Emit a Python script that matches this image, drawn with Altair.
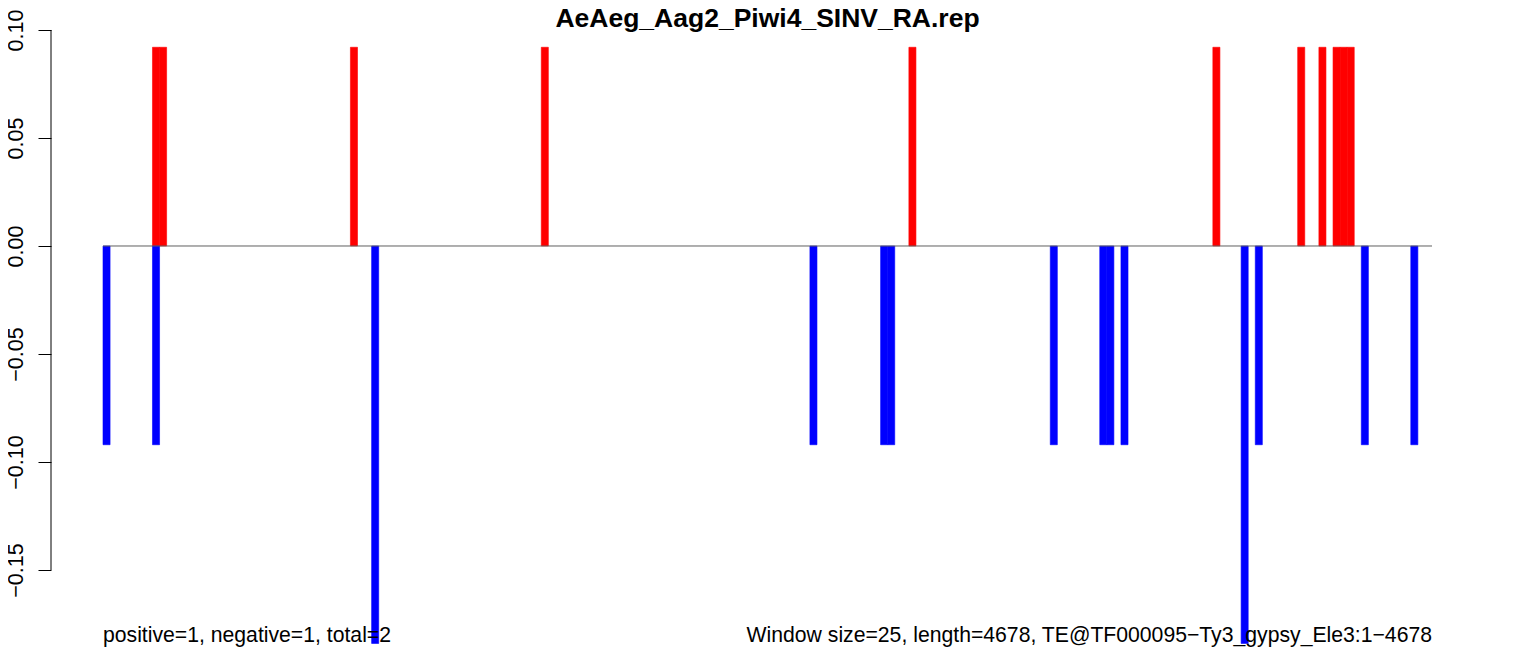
import altair as alt
import pandas as pd

# Window indices (window size 25, 188 windows over length 4678)
n_windows = 188
pos_windows = [7, 8, 35, 62, 114, 157, 169, 172, 174, 175, 176]
pos_values = [0.092, 0.092, 0.092, 0.092, 0.092, 0.092, 0.092, 0.092, 0.092, 0.092, 0.092]
neg_windows = [0, 7, 38, 100, 110, 111, 134, 141, 142, 144, 161, 163, 178, 185]
neg_values = [-0.092, -0.092, -0.184, -0.092, -0.092, -0.092, -0.092, -0.092, -0.092,
              -0.092, -0.184, -0.092, -0.092, -0.092]

y_ticks = [-0.15, -0.10, -0.05, 0.00, 0.05, 0.10]
title_text = "AeAeg_Aag2_Piwi4_SINV_RA.rep"
left_note = "positive=1, negative=1, total=2"
right_note = "Window size=25, length=4678, TE@TF000095\u2212Ty3_gypsy_Ele3:1\u22124678"

rows = []
for w, v in zip(pos_windows, pos_values):
    rows.append({"start": w, "end": w + 1, "value": v, "strand": "pos"})
for w, v in zip(neg_windows, neg_values):
    rows.append({"start": w, "end": w + 1, "value": v, "strand": "neg"})
df = pd.DataFrame(rows)

one = pd.DataFrame({"title": [title_text], "left": [left_note], "right": [right_note]})

W = 1329
H = 630
FONT = "Liberation Sans"

xscale = alt.Scale(domain=[0, n_windows], nice=False, zero=False)
yscale = alt.Scale(domain=[-0.185185, 0.106481], nice=False, zero=False)
cscale = alt.Scale(domain=["pos", "neg"], range=["#FF0000", "#0000FF"])

bars = alt.Chart(df).mark_rect(strokeWidth=0.6).encode(
    x=alt.X("start:Q", scale=xscale, axis=None),
    x2="end:Q",
    y=alt.Y("value:Q", scale=yscale, title=None,
            axis=alt.Axis(values=y_ticks, format=".2f", domain=False, grid=False,
                          ticks=True, tickSize=13, tickColor="black", tickWidth=1,
                          offset=52, labelAngle=-90, labelAlign="center",
                          labelBaseline="alphabetic", labelPadding=16,
                          labelFont=FONT, labelFontSize=21.5, labelColor="black",
                          labelOverlap=False)),
    y2=alt.datum(0),
    color=alt.Color("strand:N", scale=cscale, legend=None),
    stroke=alt.Stroke("strand:N", scale=cscale, legend=None),
)

zero_line = alt.Chart(one).mark_rule(color="#606060", strokeWidth=1).encode(
    x=alt.X(datum=0),
    x2=alt.X2(datum=n_windows),
    y=alt.Y(datum=0),
)

axis_line = alt.Chart(one).mark_rule(color="black", strokeWidth=1).encode(
    x=alt.value(-52),
    y=alt.Y(datum=0.10),
    y2=alt.Y2(datum=-0.15),
)

title = alt.Chart(one).mark_text(font=FONT, fontSize=26.5, fontWeight="bold", align="center",
                                 baseline="alphabetic", color="black").encode(
    x=alt.value(W / 2), y=alt.value(11), text="title:N")

left_txt = alt.Chart(one).mark_text(font=FONT, fontSize=21.2, align="left",
                                    baseline="alphabetic", color="black").encode(
    x=alt.value(0), y=alt.value(626), text="left:N")

right_txt = alt.Chart(one).mark_text(font=FONT, fontSize=21.2, align="right",
                                     baseline="alphabetic", color="black").encode(
    x=alt.value(W), y=alt.value(626), text="right:N")

chart = alt.layer(bars, zero_line, axis_line, left_txt, right_txt, title).properties(
    width=W, height=H,
    autosize=alt.AutoSizeParams(type="none"),
    padding={"left": 95, "top": 8, "right": 90, "bottom": 2},
    background="white",
).configure_view(stroke=None)

chart.save("out.html", embed_options={"renderer": "svg", "actions": False})
